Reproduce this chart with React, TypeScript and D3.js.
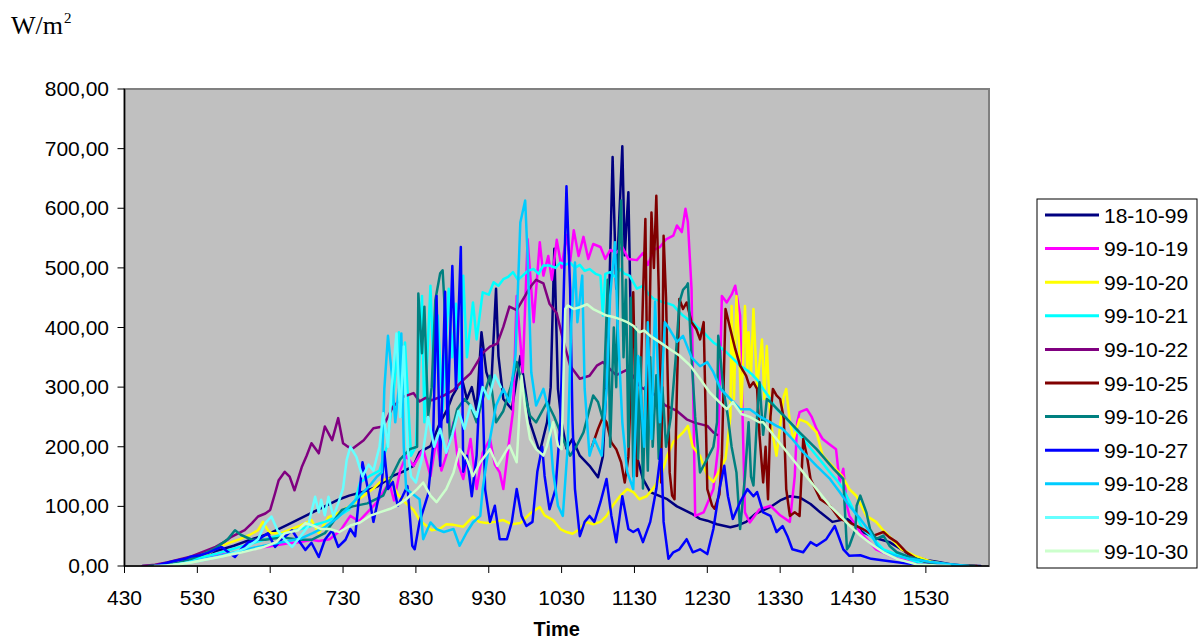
import React from 'react';
import * as d3 from 'd3';

type P = [number, number]; // [time as HMM, W/m2]

const yTicks = [0, 100, 200, 300, 400, 500, 600, 700, 800];
const xTickLabels = [430, 530, 630, 730, 830, 930, 1030, 1130, 1230, 1330, 1430, 1530];

const s181099: P[] = [[445,0],[500,1],[510,3],[517,5],[530,14],[545,25],[600,34],[615,45],[630,55],[645,70],[704,89],[715,100],[727,112],[735,118],[746,124],[758,133],[811,151],[819,158],[828,168],[833,191],[842,201],[850,241],[856,263],[900,285],[908,313],[912,280],[916,300],[920,262],[924,392],[928,325],[932,300],[936,465],[938,352],[942,280],[949,263],[956,352],[1004,241],[1012,191],[1018,241],[1021,300],[1024,532],[1027,297],[1030,241],[1034,197],[1039,213],[1045,185],[1053,168],[1100,149],[1104,184],[1108,352],[1112,686],[1115,465],[1120,704],[1122,521],[1125,627],[1128,297],[1132,184],[1137,146],[1143,124],[1150,118],[1157,112],[1205,100],[1210,95],[1217,88],[1224,79],[1230,76],[1238,70],[1249,65],[1255,68],[1302,74],[1310,88],[1322,99],[1330,110],[1338,117],[1346,115],[1355,104],[1403,90],[1413,74],[1425,79],[1430,72],[1438,57],[1450,46],[1500,40],[1510,28],[1517,18],[1530,10],[1539,7],[1550,3],[1600,1],[1615,0]];

const s991019: P[] = [[450,0],[500,2],[510,5],[520,9],[530,13],[545,18],[600,22],[610,26],[620,30],[630,33],[645,38],[655,40],[704,44],[710,42],[719,45],[728,60],[736,84],[743,75],[750,90],[758,107],[803,124],[808,140],[812,110],[817,160],[822,185],[828,168],[836,196],[842,151],[847,213],[851,160],[855,185],[901,241],[905,170],[909,146],[915,213],[920,129],[925,190],[931,213],[935,170],[939,157],[942,129],[947,213],[950,260],[953,453],[958,325],[1002,548],[1007,409],[1012,543],[1015,487],[1019,520],[1022,480],[1026,547],[1030,500],[1034,555],[1037,510],[1040,563],[1044,520],[1048,552],[1052,515],[1056,540],[1102,535],[1106,515],[1110,530],[1115,525],[1120,535],[1125,515],[1132,513],[1137,525],[1141,505],[1146,530],[1151,535],[1156,548],[1202,554],[1205,571],[1209,560],[1212,599],[1214,577],[1217,465],[1220,84],[1227,90],[1235,129],[1239,200],[1242,453],[1246,442],[1250,455],[1253,470],[1257,420],[1301,90],[1305,73],[1313,95],[1322,101],[1330,85],[1338,74],[1342,150],[1344,241],[1346,258],[1352,263],[1356,250],[1400,230],[1405,213],[1410,205],[1416,196],[1419,140],[1422,163],[1425,101],[1427,84],[1436,57],[1449,28],[1506,12],[1528,6],[1545,2],[1600,0]];

const s991020: P[] = [[450,0],[505,2],[515,6],[525,12],[535,18],[540,22],[547,32],[555,38],[605,45],[613,52],[620,60],[624,74],[628,60],[631,55],[639,55],[645,60],[655,68],[704,77],[710,55],[718,82],[726,89],[735,100],[745,115],[755,130],[800,140],[806,147],[809,146],[815,120],[822,105],[828,94],[833,77],[843,60],[850,63],[855,70],[901,69],[909,66],[917,83],[922,74],[928,72],[935,74],[942,77],[949,70],[956,72],[1004,88],[1012,99],[1016,85],[1023,77],[1029,62],[1034,57],[1039,54],[1045,62],[1050,74],[1056,70],[1102,74],[1107,84],[1112,101],[1118,117],[1124,129],[1129,124],[1134,112],[1140,117],[1145,129],[1151,146],[1157,185],[1202,208],[1210,224],[1214,235],[1218,200],[1224,185],[1230,151],[1235,141],[1240,160],[1245,180],[1249,250],[1250,436],[1252,280],[1254,453],[1256,376],[1258,260],[1301,436],[1303,330],[1304,392],[1306,320],[1308,431],[1311,300],[1315,380],[1317,280],[1319,369],[1322,241],[1327,185],[1333,285],[1335,297],[1338,241],[1341,213],[1346,246],[1352,241],[1400,224],[1405,185],[1413,168],[1421,151],[1427,129],[1433,117],[1441,84],[1449,74],[1454,62],[1502,45],[1510,28],[1521,17],[1535,7],[1549,2],[1600,0]];

const s991021: P[] = [[455,0],[505,2],[515,5],[525,10],[535,15],[545,20],[555,26],[605,32],[615,38],[625,44],[635,50],[645,56],[655,62],[705,68],[715,74],[725,82],[735,95],[740,110],[744,140],[752,151],[800,160],[806,200],[812,300],[816,392],[819,250],[821,375],[826,185],[830,200],[835,453],[837,241],[840,380],[842,470],[845,300],[848,420],[852,260],[857,465],[900,350],[903,440],[906,300],[909,487],[912,350],[917,442],[920,380],[925,459],[930,455],[934,476],[938,470],[942,481],[946,485],[950,493],[954,480],[958,487],[1002,495],[1007,498],[1011,490],[1015,504],[1020,504],[1025,500],[1029,509],[1033,505],[1037,509],[1041,500],[1045,505],[1049,495],[1053,498],[1058,490],[1102,487],[1104,420],[1106,490],[1110,493],[1114,485],[1118,498],[1122,490],[1126,487],[1132,465],[1137,470],[1142,455],[1146,448],[1150,445],[1154,442],[1158,440],[1202,437],[1206,428],[1210,420],[1214,414],[1218,409],[1222,400],[1227,392],[1231,383],[1235,375],[1240,368],[1246,358],[1252,346],[1257,336],[1303,328],[1308,319],[1312,310],[1316,297],[1322,280],[1327,263],[1333,252],[1338,241],[1343,228],[1349,213],[1354,200],[1400,185],[1406,170],[1411,157],[1417,143],[1422,129],[1430,96],[1438,62],[1447,45],[1455,28],[1509,17],[1522,7],[1544,2],[1600,0]];

const s991022: P[] = [[445,0],[455,2],[505,6],[515,11],[525,16],[535,24],[545,32],[552,40],[558,49],[609,60],[615,72],[620,83],[626,88],[630,94],[634,122],[637,144],[642,158],[646,150],[650,127],[656,166],[700,185],[704,206],[710,189],[715,234],[721,211],[726,248],[730,206],[734,200],[738,197],[747,211],[755,231],[803,234],[811,267],[820,284],[828,290],[833,276],[838,282],[843,278],[852,285],[901,295],[909,312],[915,323],[920,340],[925,357],[931,368],[937,373],[942,401],[947,435],[953,429],[1001,457],[1005,470],[1009,480],[1015,474],[1020,440],[1026,424],[1031,381],[1037,336],[1045,314],[1053,319],[1059,336],[1104,342],[1115,320],[1125,330],[1135,300],[1145,290],[1155,270],[1205,260],[1213,246],[1220,240],[1230,235],[1235,224],[1238,220]];

const s991025: P[] = [[1055,200],[1100,230],[1104,250],[1107,241],[1111,207],[1115,196],[1119,174],[1122,140],[1125,183],[1127,300],[1129,459],[1132,151],[1135,300],[1137,450],[1139,582],[1141,241],[1144,593],[1146,500],[1148,621],[1150,465],[1152,140],[1154,554],[1156,450],[1159,157],[1201,118],[1203,112],[1205,300],[1207,448],[1210,431],[1213,442],[1217,409],[1221,397],[1224,380],[1227,409],[1230,129],[1234,101],[1236,96],[1240,120],[1242,185],[1245,431],[1249,397],[1253,364],[1257,336],[1302,319],[1305,300],[1308,308],[1311,297],[1313,219],[1316,140],[1318,200],[1320,112],[1322,250],[1324,297],[1327,286],[1330,280],[1333,247],[1335,129],[1338,84],[1342,90],[1346,84],[1349,213],[1352,185],[1355,146],[1359,129],[1403,112],[1411,101],[1419,79],[1427,73],[1438,62],[1447,51],[1455,57],[1500,48],[1506,40],[1514,23],[1522,12],[1536,3],[1550,1],[1612,0]];

const s991026: P[] = [[450,0],[505,2],[515,6],[525,12],[535,20],[545,30],[555,45],[601,60],[606,52],[615,44],[626,44],[640,48],[655,44],[704,44],[715,55],[729,94],[738,100],[750,105],[803,118],[810,150],[817,179],[825,196],[831,200],[832,457],[835,357],[837,435],[840,250],[843,300],[846,446],[850,491],[852,496],[854,424],[856,300],[858,213],[904,263],[910,280],[915,269],[920,241],[925,280],[931,319],[936,241],[942,260],[948,300],[953,342],[958,300],[1004,252],[1009,241],[1018,275],[1024,250],[1029,224],[1037,185],[1042,200],[1048,224],[1053,263],[1056,286],[1100,275],[1104,246],[1108,480],[1110,200],[1113,400],[1115,300],[1117,520],[1119,613],[1121,350],[1123,480],[1125,200],[1127,450],[1129,150],[1131,400],[1133,180],[1135,350],[1137,130],[1139,300],[1141,160],[1143,350],[1145,200],[1148,320],[1150,180],[1153,300],[1156,200],[1200,250],[1204,350],[1207,442],[1210,463],[1213,470],[1214,474],[1217,350],[1220,250],[1224,157],[1230,180],[1235,200],[1238,241],[1239,386],[1240,368],[1243,300],[1247,250],[1250,200],[1254,157],[1257,62],[1301,150],[1304,241],[1306,150],[1308,135],[1311,250],[1313,308],[1316,220],[1319,280],[1322,275],[1333,252],[1346,224],[1400,196],[1414,163],[1422,146],[1425,28],[1427,34],[1432,62],[1433,101],[1436,118],[1441,90],[1444,62],[1449,45],[1455,51],[1500,34],[1506,23],[1517,15],[1533,6],[1555,1],[1610,0]];

const s991027: P[] = [[455,0],[500,3],[510,8],[520,12],[525,16],[532,18],[539,22],[545,28],[550,32],[555,24],[601,15],[606,28],[612,40],[620,44],[628,55],[634,32],[639,44],[648,60],[653,44],[659,27],[704,39],[710,15],[715,44],[721,60],[726,32],[732,44],[736,62],[740,50],[746,174],[750,134],[755,74],[802,141],[804,191],[807,129],[811,141],[815,101],[819,117],[823,134],[827,34],[829,28],[833,74],[840,120],[844,200],[847,453],[850,168],[854,460],[856,241],[900,503],[903,297],[907,535],[909,158],[912,185],[916,117],[920,185],[924,364],[927,129],[931,74],[935,101],[939,45],[945,45],[949,74],[953,129],[957,84],[1001,67],[1006,74],[1010,158],[1014,200],[1016,151],[1020,95],[1025,129],[1029,241],[1034,637],[1037,465],[1039,241],[1041,129],[1045,50],[1049,74],[1053,84],[1057,74],[1102,107],[1107,146],[1111,84],[1115,40],[1120,117],[1125,62],[1129,57],[1133,62],[1137,40],[1143,74],[1148,129],[1152,196],[1154,74],[1158,12],[1202,23],[1207,28],[1213,45],[1218,23],[1224,28],[1230,20],[1235,62],[1240,129],[1244,168],[1247,117],[1251,79],[1257,107],[1303,129],[1308,117],[1311,124],[1316,90],[1322,84],[1327,57],[1332,67],[1336,50],[1340,28],[1349,23],[1355,40],[1400,34],[1408,45],[1415,67],[1422,28],[1427,17],[1436,18],[1445,12],[1500,8],[1515,4],[1530,2],[1545,0]];

const s991028: P[] = [[505,0],[515,3],[525,7],[535,11],[545,15],[555,20],[605,25],[615,30],[625,34],[635,38],[645,42],[655,46],[705,55],[715,65],[725,80],[735,100],[745,120],[752,135],[758,150],[802,157],[804,297],[807,386],[810,325],[813,241],[816,300],[818,390],[820,200],[822,129],[828,120],[833,112],[836,45],[842,73],[847,62],[853,57],[901,62],[906,34],[912,57],[917,73],[923,84],[925,129],[931,213],[936,269],[942,297],[947,275],[952,353],[956,576],[1000,613],[1002,520],[1005,325],[1009,269],[1015,297],[1019,263],[1023,158],[1027,101],[1031,84],[1035,200],[1038,409],[1041,509],[1043,409],[1047,487],[1049,297],[1053,185],[1057,213],[1103,185],[1107,297],[1110,453],[1114,543],[1116,409],[1120,241],[1124,158],[1129,129],[1133,352],[1138,200],[1141,409],[1144,213],[1147,443],[1151,241],[1155,409],[1159,397],[1205,376],[1210,386],[1217,350],[1224,335],[1230,342],[1235,325],[1241,297],[1249,280],[1257,263],[1305,263],[1313,251],[1322,241],[1327,235],[1332,230],[1340,213],[1349,191],[1400,168],[1411,146],[1419,124],[1427,101],[1436,79],[1444,57],[1450,34],[1455,23],[1506,17],[1517,12],[1533,7],[1550,3],[1605,0]];

const s991029: P[] = [[500,0],[510,2],[520,5],[530,8],[540,12],[550,16],[600,22],[610,30],[620,45],[626,72],[631,83],[636,60],[642,44],[648,32],[655,50],[701,66],[707,116],[710,90],[712,111],[715,85],[718,116],[722,83],[726,105],[730,130],[733,178],[736,200],[741,183],[746,150],[751,170],[755,160],[800,200],[803,256],[807,200],[810,300],[814,390],[817,250],[820,368],[823,200],[826,150],[830,140],[835,180],[840,250],[845,200],[850,230],[855,190],[900,220],[905,260],[910,230],[915,270],[920,250],[925,300],[930,280],[935,320],[940,300]];

const s991030: P[] = [[455,0],[505,1],[515,3],[525,6],[535,10],[545,14],[555,18],[605,22],[615,27],[625,32],[635,40],[642,55],[653,60],[659,72],[705,68],[712,62],[719,62],[727,57],[736,68],[744,73],[752,84],[800,90],[809,96],[814,101],[822,112],[831,129],[836,140],[842,118],[847,107],[855,129],[901,157],[906,196],[912,179],[917,151],[923,174],[931,196],[937,168],[942,185],[947,202],[953,174],[957,319],[1000,263],[1004,213],[1009,196],[1015,185],[1018,202],[1023,241],[1027,202],[1030,196],[1033,431],[1035,437],[1040,431],[1045,434],[1051,439],[1056,431],[1102,425],[1107,420],[1112,418],[1118,414],[1124,409],[1129,403],[1134,392],[1138,395],[1143,386],[1151,375],[1159,364],[1207,353],[1216,336],[1224,314],[1232,291],[1240,275],[1246,263],[1251,275],[1258,255],[1305,250],[1313,241],[1316,241],[1327,213],[1338,185],[1349,157],[1400,129],[1411,101],[1422,79],[1427,68],[1436,51],[1447,34],[1455,23],[1506,12],[1522,3],[1539,1],[1550,0]];

const seriesNames = ['18-10-99','99-10-19','99-10-20','99-10-21','99-10-22','99-10-25','99-10-26','99-10-27','99-10-28','99-10-29','99-10-30'];
const seriesColors = ['#000080','#FF00FF','#FFFF00','#00FFFF','#800080','#800000','#008080','#0000FF','#00CCFF','#66FFFF','#CCFFCC'];
const seriesData = [s181099, s991019, s991020, s991021, s991022, s991025, s991026, s991027, s991028, s991029, s991030];

const toMin = (hhmm: number) => Math.floor(hhmm / 100) * 60 + (hhmm % 100);

const FONT = "'Liberation Sans', Arial, Helvetica, sans-serif";

export default function App() {
  const W = 1199, H = 642;
  const left = 124.5, right = 989, top = 89, bottom = 566;
  const x = d3.scaleLinear().domain([270, 982]).range([left, right]);
  const y = d3.scaleLinear().domain([0, 800]).range([bottom, top]);
  const line = d3.line<P>().x(d => x(toMin(d[0]))).y(d => y(d[1]));
  const fmt = (v: number) => v.toFixed(2).replace('.', ',');

  const legX = 1037, legY = 199, legW = 160, legH = 369;

  return (
    <svg width={W} height={H} style={{ position: 'absolute', left: 0, top: 0, background: '#fff' }}
      xmlns="http://www.w3.org/2000/svg">
      <rect x={0} y={0} width={W} height={H} fill="#fff" />
      <text x={11} y={34} fontFamily="'Liberation Serif', 'Times New Roman', serif" fontSize={26} fill="#000">W/m</text>
      <text x={64} y={23} fontFamily="'Liberation Serif', 'Times New Roman', serif" fontSize={15} fill="#000">2</text>

      <defs>
        <clipPath id="plotClip">
          <rect x={left} y={top - 2} width={right - left} height={bottom - top + 2} />
        </clipPath>
      </defs>

      <rect x={left} y={top} width={right - left} height={bottom - top} fill="#C0C0C0" stroke="#808080" strokeWidth={2} />

      <g clipPath="url(#plotClip)">
        {seriesData.map((d, i) => (
          <path key={seriesNames[i]} d={line(d) || ''} fill="none" stroke={seriesColors[i]} strokeWidth={2.5}
            strokeLinejoin="round" strokeLinecap="round" />
        ))}
      </g>

      <line x1={left} y1={top} x2={left} y2={bottom} stroke="#000" strokeWidth={1.5} />
      <line x1={left} y1={bottom} x2={right} y2={bottom} stroke="#000" strokeWidth={1.5} />

      {yTicks.map(v => (
        <g key={'y' + v}>
          <line x1={left - 7} x2={left} y1={y(v)} y2={y(v)} stroke="#000" strokeWidth={1} />
          <text x={109} y={y(v) + 7} textAnchor="end" fontFamily={FONT} fontSize={21} fill="#000">{fmt(v)}</text>
        </g>
      ))}

      {xTickLabels.map(t => {
        const px = x(toMin(t));
        return (
          <g key={'x' + t}>
            <line x1={px} x2={px} y1={bottom} y2={bottom + 7} stroke="#000" strokeWidth={1} />
            <text x={px} y={605} textAnchor="middle" fontFamily={FONT} fontSize={21} fill="#000">{t}</text>
          </g>
        );
      })}

      <text x={(left + right) / 2} y={636} textAnchor="middle" fontFamily={FONT} fontSize={20} fontWeight="bold" fill="#000">Time</text>

      <rect x={legX} y={legY} width={legW} height={legH} fill="#fff" stroke="#000" strokeWidth={1} />
      {seriesNames.map((n, i) => {
        const ly = 215 + i * 33.6;
        return (
          <g key={'l' + n}>
            <line x1={1045} x2={1099} y1={ly} y2={ly} stroke={seriesColors[i]} strokeWidth={3} />
            <text x={1104} y={ly + 7.5} fontFamily={FONT} fontSize={21} fill="#000">{n}</text>
          </g>
        );
      })}
    </svg>
  );
}
